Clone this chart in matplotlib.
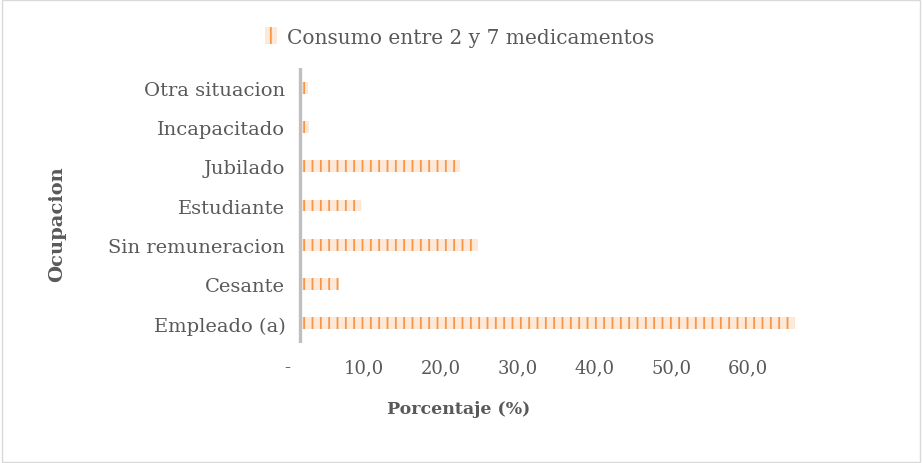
import matplotlib.pyplot as plt
from matplotlib.patches import Patch, Rectangle

plt.rcParams['font.family'] = ['DejaVu Serif']
plt.rcParams['hatch.linewidth'] = 1.3

ocupaciones = ['Empleado (a)', 'Cesante', 'Sin remuneracion', 'Estudiante',
               'Jubilado', 'Incapacitado', 'Otra situacion']
porcentajes = [52.1, 4.1, 18.7, 6.4, 16.8, 0.9, 0.8]
serie = 'Consumo entre 2 y 7 medicamentos'
ticks_etiqueta = [0, 10, 20, 30, 40, 50, 60]
textos_etiqueta = ['-', '10,0', '20,0', '30,0', '40,0', '50,0', '60,0']

gris = '#595959'
relleno = '#fde9d9'
naranja = '#f79646'

fig = plt.figure(figsize=(9.22, 4.64), dpi=100)
ax = fig.add_axes([0.311, 0.2586, 0.6326, 0.5924])

ax.barh(ocupaciones, porcentajes, height=0.3, color=relleno,
        edgecolor=naranja, hatch='||', linewidth=0)
ax.set_xlim(-1.4, 60)
ax.set_ylim(-0.5, 6.5)
ax.axvline(0, color='#bfbfbf', linewidth=2.4)

for s in ax.spines.values():
    s.set_visible(False)
ax.tick_params(axis='y', length=0, pad=1, labelsize=14, labelcolor=gris)
ax.tick_params(axis='x', length=0, labelbottom=False)

# etiquetas del eje x desplazadas como en el original
def fwd(x):
    return (12.8 + 9.5 * x) / 7.68


def inv(v):
    return (7.68 * v - 12.8) / 9.5


sec = ax.secondary_xaxis('bottom', functions=(fwd, inv))
sec.set_xticks(ticks_etiqueta, textos_etiqueta)
sec.tick_params(length=0, pad=11, labelsize=13, labelcolor=gris)
sec.spines['bottom'].set_visible(False)

fig.text(57 / 922, 1 - 224 / 464, 'Ocupacion', rotation=90, ha='center',
         va='center', fontsize=14, fontweight='bold', color=gris)
fig.text(459 / 922, 1 - 410 / 464, 'Porcentaje (%)', ha='center',
         va='center', fontsize=12.5, fontweight='bold', color=gris)

mano = Patch(facecolor=relleno, edgecolor=naranja, hatch='||', linewidth=0)
fig.legend([mano], [serie], loc='center', bbox_to_anchor=(460 / 922, 1 - 38 / 464),
           frameon=False, fontsize=14.5, labelcolor=gris, handlelength=0.6,
           handleheight=0.85, handletextpad=0.5)

fig.patches.append(Rectangle((0.002, 0.002), 0.996, 0.996, transform=fig.transFigure,
                             fill=False, edgecolor='#d9d9d9', linewidth=1))

fig.savefig('out.png', dpi=100)
